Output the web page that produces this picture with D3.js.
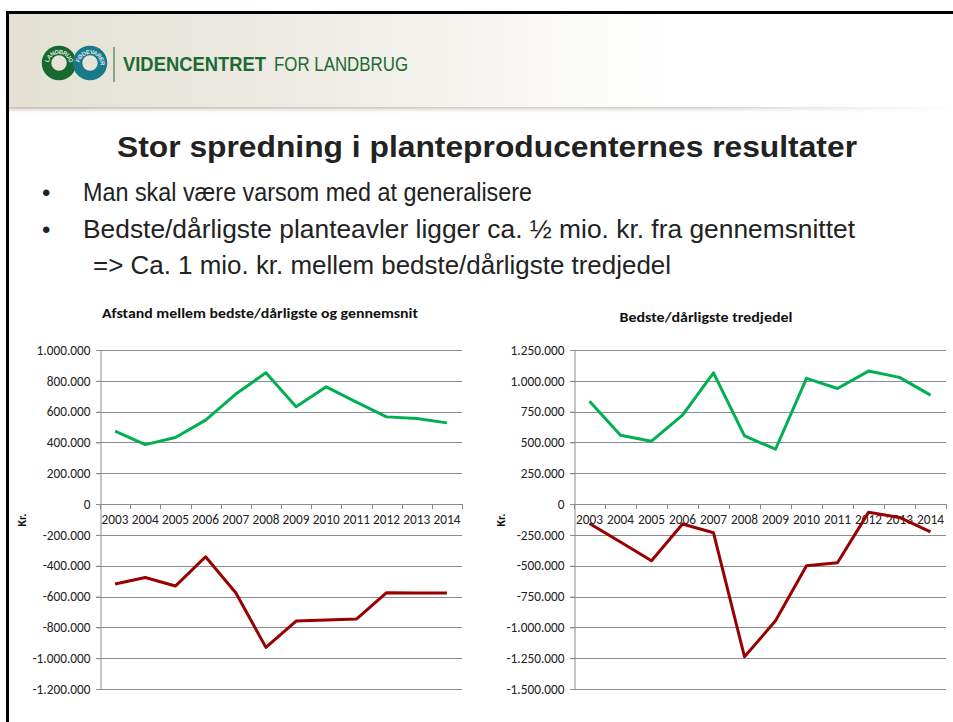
<!DOCTYPE html>
<html><head><meta charset="utf-8">
<script src="https://cdn.jsdelivr.net/npm/d3@7"></script>
<style>html,body{margin:0;background:#fff;overflow:hidden;}svg{display:block;}</style>
</head><body>
<script>
const years = ["2003","2004","2005","2006","2007","2008","2009","2010","2011","2012","2013","2014"];
const leftBest  = [473000, 386000, 432000, 545000, 714000, 852000, 631000, 761000, 662000, 566000, 556000, 527000];
const leftWorst = [-519000, -476000, -532000, -342000, -575000, -930000, -759000, -752000, -746000, -575000, -577000, -577000];
const rightBest  = [835000, 559000, 510000, 721000, 1065000, 553000, 445000, 1020000, 938000, 1079000, 1028000, 884000];
const rightWorst = [-157000, -308000, -460000, -162000, -233000, -1239000, -947000, -500000, -476000, -67000, -108000, -225000];
const leftTicks = [1000000, 800000, 600000, 400000, 200000, 0, -200000, -400000, -600000, -800000, -1000000, -1200000];
const rightTicks = [1250000, 1000000, 750000, 500000, 250000, 0, -250000, -500000, -750000, -1000000, -1250000, -1500000];
const slideTitle = "Stor spredning i planteproducenternes resultater";
const bullets = ["Man skal være varsom med at generalisere", "Bedste/dårligste planteavler ligger ca. ½ mio. kr. fra gennemsnittet"];
const subLine = "=> Ca. 1 mio. kr. mellem bedste/dårligste tredjedel";
const leftTitle = "Afstand mellem bedste/dårligste og gennemsnit";
const rightTitle = "Bedste/dårligste tredjedel";

const W = 953, H = 722;
const svg = d3.select("body").append("svg").attr("width", W).attr("height", H);
const defs = svg.append("defs");
const hg = defs.append("linearGradient").attr("id","hg").attr("x1","0").attr("x2","1");
hg.append("stop").attr("offset","0").attr("stop-color","#e3e0d3");
hg.append("stop").attr("offset","0.35").attr("stop-color","#efede6");
hg.append("stop").attr("offset","0.7").attr("stop-color","#ffffff");
const sg = defs.append("linearGradient").attr("id","sg").attr("x1","0").attr("x2","0").attr("y1","0").attr("y2","1");
sg.append("stop").attr("offset","0").attr("stop-color","#bdbbb3");
sg.append("stop").attr("offset","1").attr("stop-color","#ffffff").attr("stop-opacity","0");
const sgh = defs.append("linearGradient").attr("id","sgh").attr("x1","0").attr("x2","1");
sgh.append("stop").attr("offset","0").attr("stop-color","#fff").attr("stop-opacity","0");
sgh.append("stop").attr("offset","0.75").attr("stop-color","#fff").attr("stop-opacity","0.3");
sgh.append("stop").attr("offset","1").attr("stop-color","#fff").attr("stop-opacity","1");

// header
svg.append("rect").attr("x",7).attr("y",12).attr("width",W-7).attr("height",97).attr("fill","url(#hg)");
svg.append("rect").attr("x",7).attr("y",107).attr("width",W-7).attr("height",7).attr("fill","url(#sg)");
svg.append("rect").attr("x",7).attr("y",107).attr("width",W-7).attr("height",7).attr("fill","url(#sgh)");
// borders
svg.append("rect").attr("x",6).attr("y",11).attr("width",W-6).attr("height",3).attr("fill","#000");
svg.append("rect").attr("x",6).attr("y",11).attr("width",3).attr("height",H-11).attr("fill","#000");

// logo
const logo = svg.append("g");
const circ = [{cx:59, c:"#17692f", t:"LANDBRUG"},{cx:90, c:"#17798a", t:"FØDEVARER"}];
circ.forEach((d,i)=>{
  logo.append("circle").attr("cx",d.cx).attr("cy",63).attr("r",12.5).attr("fill","none").attr("stroke",d.c).attr("stroke-width",9.5);
  defs.append("path").attr("id","rp"+i).attr("d",`M ${d.cx-12.5} ${63+2} A 12.5 12.5 0 1 1 ${d.cx-12.5+0.01} ${63+2.2}`);
});
circ.forEach((d,i)=>{
  logo.append("text").attr("font-family","Liberation Sans, Arial").attr("font-size",6).attr("font-weight","bold").attr("fill","#fff")
    .attr("fill-opacity",0.85).attr("dy",2).append("textPath").attr("href","#rp"+i).attr("startOffset","3").text(d.t);
});
svg.append("line").attr("x1",114).attr("x2",114).attr("y1",47).attr("y2",82).attr("stroke","#2e6b3a").attr("stroke-width",1);
const hf = "Liberation Sans Narrow, Liberation Sans, Arial";
svg.append("text").attr("x",123).attr("y",71).attr("font-family",hf).attr("font-weight","bold")
  .attr("font-size",21).attr("fill","#1b6a30").attr("textLength",143).attr("lengthAdjust","spacingAndGlyphs").text("VIDENCENTRET");
svg.append("text").attr("x",274).attr("y",71).attr("font-family",hf)
  .attr("font-size",21).attr("fill","#1b6a30").attr("textLength",134).attr("lengthAdjust","spacingAndGlyphs").text("FOR LANDBRUG");

// slide title & bullets
const tf = "Liberation Sans, Arial, sans-serif";
svg.append("text").attr("x",117).attr("y",157).attr("font-family",tf).attr("font-weight","bold").attr("font-size",29)
  .attr("fill","#222").attr("textLength",740).attr("lengthAdjust","spacingAndGlyphs").text(slideTitle);
const bl = [{t:bullets[0], y:201, w:449},{t:bullets[1], y:238, w:772}];
bl.forEach(b=>{
  svg.append("text").attr("x",42).attr("y",b.y).attr("font-family",tf).attr("font-size",24).attr("fill","#222").text("•");
  svg.append("text").attr("x",83).attr("y",b.y).attr("font-family",tf).attr("font-size",25).attr("fill","#222")
    .attr("textLength",b.w).attr("lengthAdjust","spacingAndGlyphs").text(b.t);
});
svg.append("text").attr("x",93).attr("y",274).attr("font-family",tf).attr("font-size",25).attr("fill","#222")
  .attr("textLength",578).attr("lengthAdjust","spacingAndGlyphs").text(subLine);

// charts
const loc = d3.formatLocale({decimal:",", thousands:".", grouping:[3], currency:["","kr"], minus:"-"});
const fmt = loc.format(",d");
const cf = "Carlito, Liberation Sans, Arial, sans-serif";

function chart(opt){
  const g = svg.append("g");
  const x = d3.scaleBand().domain(years).range([opt.x0, opt.x1]);
  const y = d3.scaleLinear().domain([opt.ticks[opt.ticks.length-1], opt.ticks[0]]).range([689, 350]);
  g.append("g").selectAll("line").data(opt.ticks).join("line")
    .attr("x1",opt.x0-4).attr("x2",opt.x1).attr("y1",d=>Math.round(y(d))+0.5).attr("y2",d=>Math.round(y(d))+0.5)
    .attr("stroke","#8c8c8c").attr("stroke-width",1);
  const ya = g.append("g").attr("transform",`translate(${opt.x0+0.5},0)`)
    .call(d3.axisLeft(y).tickValues(opt.ticks).tickFormat(fmt).tickSize(4).tickPadding(6));
  ya.select(".domain").attr("stroke","#8c8c8c");
  ya.selectAll(".tick line").attr("stroke","#8c8c8c");
  ya.selectAll(".tick text").attr("font-family",cf).attr("font-size",13.3).attr("fill","#222");
  const xa = g.append("g").attr("transform",`translate(0,${Math.round(y(0))+0.5})`)
    .call(d3.axisBottom(x).tickSize(0).tickPadding(10));
  xa.select(".domain").remove();
  xa.selectAll(".tick text").attr("font-family",cf).attr("font-size",13.3).attr("fill","#222");
  const bounds = years.map(d=>x(d)).concat([opt.x1]);
  g.append("g").selectAll("line").data(bounds).join("line")
    .attr("x1",d=>Math.round(d)+0.5).attr("x2",d=>Math.round(d)+0.5)
    .attr("y1",Math.round(y(0))).attr("y2",Math.round(y(0))+5).attr("stroke","#8c8c8c");
  const line = d3.line().x((d,i)=>x(years[i])+x.bandwidth()/2).y(d=>y(d));
  g.append("path").datum(opt.best).attr("d",line).attr("fill","none").attr("stroke","#00b050").attr("stroke-width",3).attr("stroke-linejoin","round");
  g.append("path").datum(opt.worst).attr("d",line).attr("fill","none").attr("stroke","#990000").attr("stroke-width",3).attr("stroke-linejoin","round");
  g.append("text").attr("x",opt.tx).attr("y",opt.ty).attr("text-anchor","middle").attr("font-family",cf)
    .attr("font-weight","bold").attr("font-size",13.3).attr("fill","#111").attr("textLength",opt.tw).attr("lengthAdjust","spacingAndGlyphs").text(opt.title);
  g.append("text").attr("transform",`translate(${opt.kx},520) rotate(-90)`).attr("text-anchor","middle")
    .attr("font-family",cf).attr("font-weight","bold").attr("font-size",12).attr("fill","#111").text("Kr.");
}
chart({x0:100, x1:462, ticks:leftTicks, best:leftBest, worst:leftWorst, title:leftTitle, tx:260, ty:318, tw:316, kx:26});
chart({x0:574, x1:946, ticks:rightTicks, best:rightBest, worst:rightWorst, title:rightTitle, tx:706, ty:322, tw:173, kx:505});
</script>
</body></html>
